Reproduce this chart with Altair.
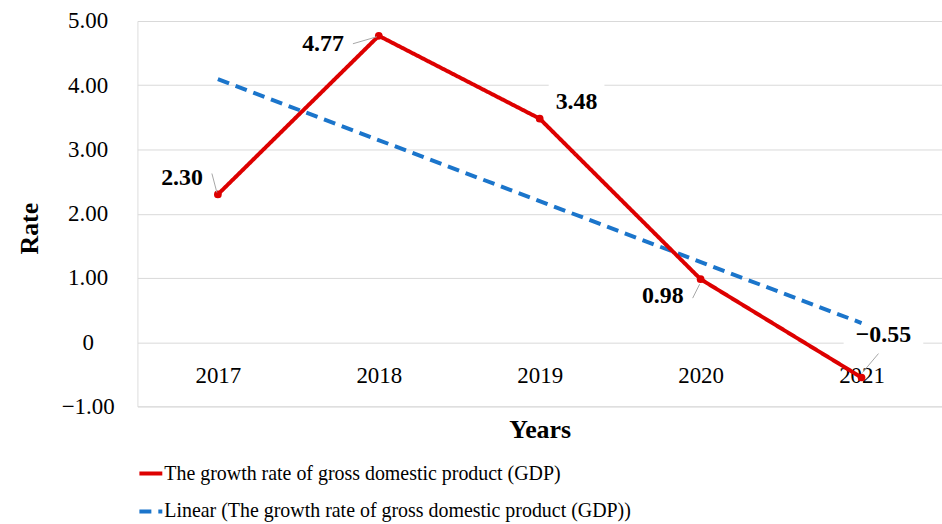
import altair as alt
import pandas as pd

# ---- data ----
years = [2017, 2018, 2019, 2020, 2021]
gdp = [2.30, 4.77, 3.48, 0.98, -0.55]
labels = ["2.30", "4.77", "3.48", "0.98", "\u22120.55"]
y_ticks = [-1, 0, 1, 2, 3, 4, 5]
series_main = "The growth rate of gross domestic product (GDP)"
series_trend = "Linear (The growth rate of gross domestic product (GDP))"

df = pd.DataFrame({"year": years, "gdp": gdp, "label": labels})
df["series"] = series_main

# ---- styling ----
FONT = "Liberation Serif"
W, H = 808, 387
RED = "#DD0000"
BLUE = "#1B75CB"
ymin, ymax = -1, 5
zero_offset = -H * (0 - ymin) / (ymax - ymin)

x_scale = alt.Scale(domain=[2016.5, 2021.5], nice=False, zero=False)
y_scale = alt.Scale(domain=[ymin, ymax], nice=False, zero=False)

x_axis = alt.Axis(
    values=years, format="d", offset=zero_offset, labelFont=FONT, labelFontSize=23,
    labelColor="black", labelPadding=23, ticks=False, domain=False, grid=False,
    title="Years", titleFont=FONT, titleFontSize=26, titleFontWeight="bold",
    titleColor="black", titleY=88, titleBaseline="middle",
)
y_axis = alt.Axis(
    values=y_ticks,
    labelExpr="datum.value == 0 ? '0' : replace(format(datum.value, '.2f'), '-', '\u2212')",
    labelFont=FONT, labelFontSize=23, labelColor="black", labelAlign="center",
    labelPadding=50, ticks=False, domain=False, grid=True, gridColor="#D9D9D9",
    gridWidth=1, title="Rate", titleFont=FONT, titleFontSize=26,
    titleFontWeight="bold", titleColor="black", titleX=-108, titleY=208,
    titleBaseline="middle", titleAlign="center",
)

X = alt.X("year:Q", scale=x_scale, axis=x_axis)
Y = alt.Y("gdp:Q", scale=y_scale, axis=y_axis)

color_scale = alt.Scale(domain=[series_main, series_trend], range=[RED, BLUE])
dash_scale = alt.Scale(domain=[series_main, series_trend], range=[[1, 0], [12, 7]])
legend = alt.Legend(
    title=None, orient="none", legendX=0, legendY=441, direction="vertical",
    labelFont=FONT, labelFontSize=20, labelColor="black", labelLimit=800,
    symbolType="stroke", symbolSize=529, symbolStrokeWidth=4, labelOffset=0,
    rowPadding=14, padding=0,
)
C = alt.Color("series:N", scale=color_scale, legend=legend)
D = alt.StrokeDash("series:N", scale=dash_scale, legend=legend)

base = alt.Chart(df)

# white label boxes (cover gridlines behind labels)
boxes = {2019: (9, 65, -38, -3), 2021: (-18, 62, -58, -28)}
box_layers = [
    base.transform_filter(alt.datum.year == yr).mark_rect(
        color="white", xOffset=a, x2Offset=b, yOffset=c, y2Offset=d
    ).encode(x=X, x2="year:Q", y=Y, y2="gdp:Q")
    for yr, (a, b, c, d) in boxes.items()
]

trend = base.transform_regression("year", "gdp").transform_calculate(
    series="'" + series_trend + "'"
).mark_line(strokeWidth=4).encode(x=X, y=Y, color=C, strokeDash=D)

line = base.mark_line(strokeWidth=4).encode(x=X, y=Y, color=C, strokeDash=D)
points = base.mark_circle(size=60, opacity=1, color=RED).encode(x=X, y=Y)

# leader lines
leaders = {2017: (-6, -21, -1, -2), 2018: (-26, 8, -2, 1), 2020: (-8, 19, -1, 5), 2021: (17, -24, 1, -5)}
leader_layers = [
    base.transform_filter(alt.datum.year == yr).mark_rule(
        color="#A6A6A6", strokeWidth=1, xOffset=a, yOffset=b, x2Offset=c, y2Offset=d
    ).encode(x=X, x2="year:Q", y=Y, y2="gdp:Q")
    for yr, (a, b, c, d) in leaders.items()
]

# data labels
offsets = {2017: (-36, -16), 2018: (-56, 8), 2019: (37, -17), 2020: (-38, 17), 2021: (22, -43)}
label_layers = [
    base.transform_filter(alt.datum.year == yr).mark_text(
        dx=dx, dy=dy, font=FONT, fontSize=24, fontWeight="bold", color="black",
        align="center", baseline="middle"
    ).encode(x=X, y=Y, text="label:N")
    for yr, (dx, dy) in offsets.items()
]

chart = alt.layer(
    *box_layers, trend, line, points, *leader_layers, *label_layers
).properties(
    width=W, height=H,
    autosize=alt.AutoSizeParams(type="none"),
    padding={"left": 138, "top": 20, "right": 0, "bottom": 117},
).configure_view(strokeWidth=0).configure(background="white")

chart.save("out.html", embed_options={"renderer": "svg", "actions": False})
